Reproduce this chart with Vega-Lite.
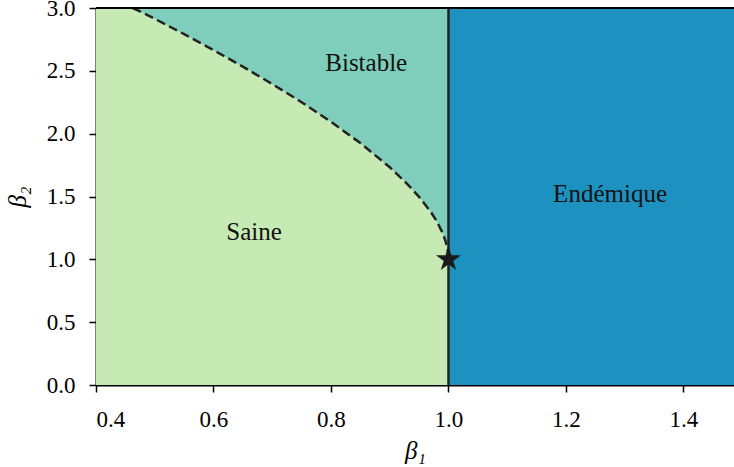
{
  "$schema": "https://vega.github.io/schema/vega-lite/v6.json",
  "autosize": {"type": "none"},
  "padding": {"left": 96, "top": 8, "right": 0, "bottom": 82},
  "width": 638,
  "height": 377,
  "background": "white",
  "config": {
    "view": {"stroke": null},
    "font": "Liberation Serif",
    "axis": {
      "domainColor": "black",
      "domainWidth": 2,
      "tickColor": "black",
      "tickWidth": 1.5,
      "tickSize": 7,
      "labelFont": "Liberation Serif",
      "labelFontSize": 23,
      "labelColor": "black",
      "titleFont": "Liberation Serif",
      "titleFontSize": 25,
      "titleFontStyle": "italic",
      "titleFontWeight": "normal",
      "titleColor": "black",
      "grid": false,
      "zindex": 1
    }
  },
  "datasets": {
    "regions": [
      {"region": "Saine", "b1": 0.4, "b1end": 1.0, "b2": 0, "b2end": 3},
      {"region": "Endémique", "b1": 1.0, "b1end": 1.486, "b2": 0, "b2end": 3}
    ],
    "curve": [
      {"b1": 0.4627, "b2": 3.0},
      {"b1": 0.48, "b2": 2.962},
      {"b1": 0.5, "b2": 2.914},
      {"b1": 0.55, "b2": 2.792},
      {"b1": 0.6, "b2": 2.665},
      {"b1": 0.65, "b2": 2.533},
      {"b1": 0.7, "b2": 2.395},
      {"b1": 0.75, "b2": 2.25},
      {"b1": 0.8, "b2": 2.094},
      {"b1": 0.85, "b2": 1.925},
      {"b1": 0.9, "b2": 1.733},
      {"b1": 0.93, "b2": 1.599},
      {"b1": 0.95, "b2": 1.497},
      {"b1": 0.97, "b2": 1.377},
      {"b1": 0.98, "b2": 1.303},
      {"b1": 0.99, "b2": 1.21},
      {"b1": 0.995, "b2": 1.146},
      {"b1": 0.999, "b2": 1.064},
      {"b1": 1.0, "b2": 1.0}
    ],
    "labels": [
      {"label": "Bistable", "b1": 0.86, "b2": 2.566},
      {"label": "Saine", "b1": 0.669, "b2": 1.214},
      {"label": "Endémique", "b1": 1.275, "b2": 1.52}
    ],
    "critical": [{"b1": 1.0, "b2": 1.0}],
    "threshold": [{"b1": 1.0, "b2": 0, "b2end": 3}],
    "frame": [{"b1": 0.4, "b1end": 1.486, "b2": 3}]
  },
  "encoding": {
    "x": {
      "field": "b1", "type": "quantitative",
      "scale": {"domain": [0.4, 1.486], "nice": false, "zero": false},
      "axis": {"title": "β₁", "values": [0.4, 0.6, 0.8, 1.0, 1.2, 1.4], "format": ".1f", "labelPadding": 16, "titlePadding": 7}
    },
    "y": {
      "field": "b2", "type": "quantitative",
      "scale": {"domain": [0, 3], "nice": false},
      "axis": {"title": "β₂", "values": [0, 0.5, 1, 1.5, 2, 2.5, 3], "format": ".1f", "labelPadding": 14, "titlePadding": 16}
    }
  },
  "layer": [
    {
      "data": {"name": "regions"},
      "mark": {"type": "rect"},
      "encoding": {
        "x2": {"field": "b1end"},
        "y2": {"field": "b2end"},
        "color": {
          "field": "region", "type": "nominal",
          "scale": {"domain": ["Saine", "Endémique"], "range": ["#c7e9b4", "#1d91c0"]},
          "legend": null
        }
      }
    },
    {
      "data": {"name": "curve"},
      "mark": {"type": "area", "color": "#7fcdbb", "opacity": 1},
      "encoding": {
        "y2": {"datum": 3}
      }
    },
    {
      "data": {"name": "threshold"},
      "mark": {"type": "rule", "color": "#222222", "strokeWidth": 2.5},
      "encoding": {
        "y2": {"field": "b2end"}
      }
    },
    {
      "data": {"name": "curve"},
      "mark": {"type": "line", "color": "#222222", "strokeWidth": 2.5, "strokeDash": [9, 4.5]},
      "encoding": {}
    },
    {
      "data": {"name": "frame"},
      "mark": {"type": "rule", "color": "black", "strokeWidth": 2},
      "encoding": {
        "x2": {"field": "b1end"}
      }
    },
    {
      "data": {"name": "critical"},
      "mark": {"type": "point", "shape": "M0,-1L0.225,-0.309L0.951,-0.309L0.363,0.118L0.588,0.809L0,0.382L-0.588,0.809L-0.363,0.118L-0.951,-0.309L-0.225,-0.309Z", "filled": true, "color": "#1a1a1a", "size": 690, "opacity": 1, "strokeWidth": 0},
      "encoding": {}
    },
    {
      "data": {"name": "labels"},
      "mark": {"type": "text", "font": "Liberation Serif", "fontSize": 25, "color": "#111111", "baseline": "middle", "align": "center"},
      "encoding": {
        "text": {"field": "label"}
      }
    }
  ]
}
